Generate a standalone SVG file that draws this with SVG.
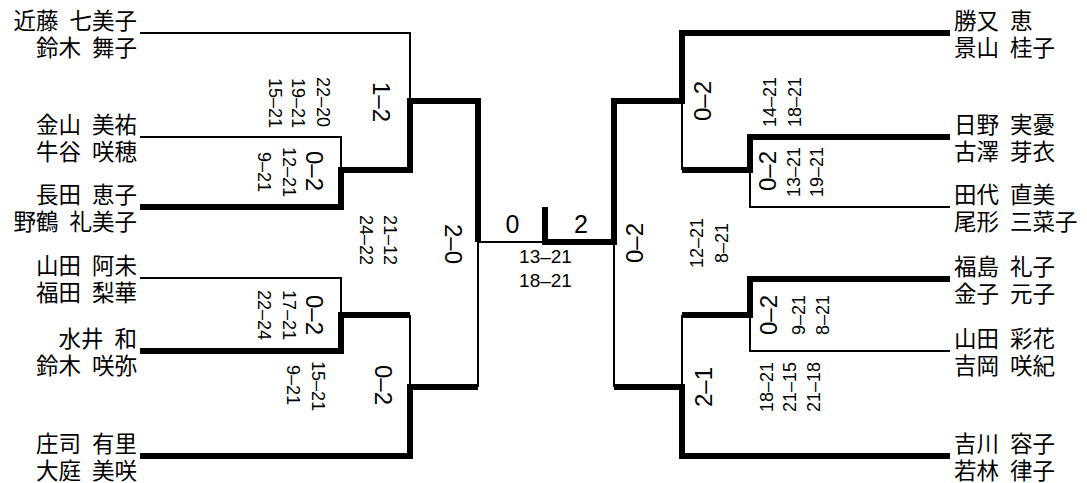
<svg xmlns="http://www.w3.org/2000/svg" width="1087" height="483" viewBox="0 0 1087 483">
<style>
text{fill:#000}
.n{font-family:"Noto Sans CJK JP","Noto Sans CJK SC",sans-serif;font-size:22.5px;dominant-baseline:central}
.l{text-anchor:end}
.r{text-anchor:start}
.b,.s,.f,.fs{font-family:"Liberation Sans",Arial,sans-serif;text-anchor:middle;dominant-baseline:central}
.b{font-size:24px}
.s{font-size:18px}
.f{font-size:25px}
.fs{font-size:19px}
.t{fill:none;stroke:#000;stroke-width:2}
.k{fill:none;stroke:#000;stroke-width:6;stroke-linejoin:miter}
</style>
<rect width="1087" height="483" fill="#fff"/>
<g id="connectors">
<path class="t" d="M140,33 H410 V101"/>
<path class="t" d="M140,137 H341 V170"/>
<path class="t" d="M140,278 H341 V315"/>
<path class="t" d="M410,315 V387"/>
<path class="t" d="M478,242 V387"/>
<path class="t" d="M478,242 H545"/>
<path class="t" d="M682,101 V170"/>
<path class="t" d="M950,207 H750 V170"/>
<path class="t" d="M950,351 H750 V315"/>
<path class="t" d="M682,315 V387"/>
<path class="t" d="M614,242 V387"/>
<path class="k" d="M140,207 H341 V170 H410 V101 H478 V242"/>
<path class="k" d="M140,351 H341 V315 H410"/>
<path class="k" d="M140,456 H410 V387 H478"/>
<path class="k" d="M545,207 V242 H614 V101 H682 V33 H950"/>
<path class="k" d="M950,137 H750 V170 H682"/>
<path class="k" d="M950,279 H750 V315 H682"/>
<path class="k" d="M950,456 H682 V387 H614"/>
</g>
<g id="team-l1"><text class="n l" y="19"><tspan x="58.5">近藤</tspan><tspan x="137">七美子</tspan></text><text class="n l" y="46"><tspan x="81">鈴木</tspan><tspan x="137">舞子</tspan></text></g>
<g id="team-l2"><text class="n l" y="123"><tspan x="81">金山</tspan><tspan x="137">美祐</tspan></text><text class="n l" y="150"><tspan x="81">牛谷</tspan><tspan x="137">咲穂</tspan></text></g>
<g id="team-l3"><text class="n l" y="193"><tspan x="81">長田</tspan><tspan x="137">恵子</tspan></text><text class="n l" y="220"><tspan x="58.5">野鶴</tspan><tspan x="137">礼美子</tspan></text></g>
<g id="team-l4"><text class="n l" y="264"><tspan x="81">山田</tspan><tspan x="137">阿未</tspan></text><text class="n l" y="291"><tspan x="81">福田</tspan><tspan x="137">梨華</tspan></text></g>
<g id="team-l5"><text class="n l" y="337"><tspan x="103.5">水井</tspan><tspan x="137">和</tspan></text><text class="n l" y="364"><tspan x="81">鈴木</tspan><tspan x="137">咲弥</tspan></text></g>
<g id="team-l6"><text class="n l" y="442"><tspan x="81">庄司</tspan><tspan x="137">有里</tspan></text><text class="n l" y="469"><tspan x="81">大庭</tspan><tspan x="137">美咲</tspan></text></g>
<g id="team-r1"><text class="n r" y="19"><tspan x="954">勝又</tspan><tspan x="1010">恵</tspan></text><text class="n r" y="46"><tspan x="954">景山</tspan><tspan x="1010">桂子</tspan></text></g>
<g id="team-r2"><text class="n r" y="123"><tspan x="954">日野</tspan><tspan x="1010">実憂</tspan></text><text class="n r" y="150"><tspan x="954">古澤</tspan><tspan x="1010">芽衣</tspan></text></g>
<g id="team-r3"><text class="n r" y="193"><tspan x="954">田代</tspan><tspan x="1010">直美</tspan></text><text class="n r" y="220"><tspan x="954">尾形</tspan><tspan x="1010">三菜子</tspan></text></g>
<g id="team-r4"><text class="n r" y="265"><tspan x="954">福島</tspan><tspan x="1010">礼子</tspan></text><text class="n r" y="292"><tspan x="954">金子</tspan><tspan x="1010">元子</tspan></text></g>
<g id="team-r5"><text class="n r" y="337"><tspan x="954">山田</tspan><tspan x="1010">彩花</tspan></text><text class="n r" y="364"><tspan x="954">吉岡</tspan><tspan x="1010">咲紀</tspan></text></g>
<g id="team-r6"><text class="n r" y="442"><tspan x="954">吉川</tspan><tspan x="1010">容子</tspan></text><text class="n r" y="469"><tspan x="954">若林</tspan><tspan x="1010">律子</tspan></text></g>
<g id="score-lB">
<text class="b" transform="translate(381.5,102) rotate(90)">1–2</text>
<text class="s" transform="translate(322.5,102) rotate(90)">22–20</text>
<text class="s" transform="translate(297.5,103) rotate(90)">19–21</text>
<text class="s" transform="translate(274.5,103) rotate(90)">15–21</text>
</g>
<g id="score-lA">
<text class="b" transform="translate(314.5,171) rotate(90)">0–2</text>
<text class="s" transform="translate(288.5,172) rotate(90)">12–21</text>
<text class="s" transform="translate(263.5,172) rotate(90)">9–21</text>
</g>
<g id="score-lS">
<text class="b" transform="translate(453,244) rotate(90)">2–0</text>
<text class="s" transform="translate(390,240) rotate(90)">21–12</text>
<text class="s" transform="translate(365.5,240) rotate(90)">24–22</text>
</g>
<g id="score-lC">
<text class="b" transform="translate(314.5,315) rotate(90)">0–2</text>
<text class="s" transform="translate(288.5,315) rotate(90)">17–21</text>
<text class="s" transform="translate(263.5,315) rotate(90)">22–24</text>
</g>
<g id="score-lD">
<text class="b" transform="translate(383,385) rotate(90)">0–2</text>
<text class="s" transform="translate(317.5,386) rotate(90)">15–21</text>
<text class="s" transform="translate(292.5,385) rotate(90)">9–21</text>
</g>
<g id="score-final">
<text class="f" x="512.5" y="224">0</text>
<text class="f" x="581" y="224">2</text>
<text class="fs" x="545.5" y="256">13–21</text>
<text class="fs" x="545.5" y="280">18–21</text>
</g>
<g id="score-rA">
<text class="b" transform="translate(702,101) rotate(-90)">0–2</text>
<text class="s" transform="translate(770,102) rotate(-90)">14–21</text>
<text class="s" transform="translate(794.5,102) rotate(-90)">18–21</text>
</g>
<g id="score-rB">
<text class="b" transform="translate(767.5,171) rotate(-90)">0–2</text>
<text class="s" transform="translate(793.5,172) rotate(-90)">13–21</text>
<text class="s" transform="translate(816.5,172) rotate(-90)">19–21</text>
</g>
<g id="score-rS">
<text class="b" transform="translate(634.5,243) rotate(-90)">0–2</text>
<text class="s" transform="translate(696.5,243) rotate(-90)">12–21</text>
<text class="s" transform="translate(721.5,243) rotate(-90)">8–21</text>
</g>
<g id="score-rC">
<text class="b" transform="translate(768,315) rotate(-90)">0–2</text>
<text class="s" transform="translate(798.5,315) rotate(-90)">9–21</text>
<text class="s" transform="translate(822.5,315) rotate(-90)">8–21</text>
</g>
<g id="score-rD">
<text class="b" transform="translate(703,387) rotate(-90)">2–1</text>
<text class="s" transform="translate(766.5,387) rotate(-90)">18–21</text>
<text class="s" transform="translate(790,387) rotate(-90)">21–15</text>
<text class="s" transform="translate(813.5,387) rotate(-90)">21–18</text>
</g>
</svg>
